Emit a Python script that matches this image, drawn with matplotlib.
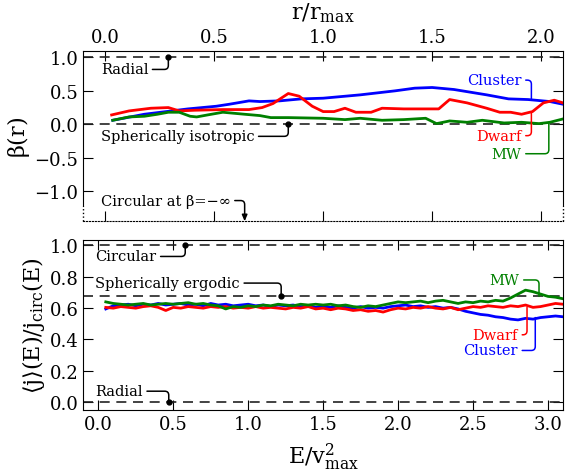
import matplotlib
matplotlib.use("Agg")
import matplotlib.pyplot as plt

plt.rcParams["font.family"] = "DejaVu Serif"
plt.rcParams["mathtext.fontset"] = "dejavuserif"

# --- panel superior: beta(r) ---
r_cluster = [0.035, 0.18, 0.38, 0.51, 0.57, 0.66, 0.71, 0.80, 0.90, 1.00,
             1.17, 1.33, 1.42, 1.50, 1.60, 1.75, 1.85, 1.94, 2.04, 2.10]
b_cluster = [0.06, 0.15, 0.23, 0.27, 0.30, 0.35, 0.34, 0.35, 0.38, 0.39,
             0.44, 0.50, 0.54, 0.55, 0.52, 0.44, 0.38, 0.37, 0.34, 0.30]

r_dwarf = [0.03, 0.11, 0.21, 0.29, 0.34, 0.41, 0.54, 0.66, 0.72, 0.77,
           0.84, 0.89, 0.95, 1.00, 1.05, 1.10, 1.15, 1.22, 1.27, 1.37,
           1.43, 1.53, 1.58, 1.66, 1.75, 1.81, 1.86, 1.91, 1.96, 2.01,
           2.06, 2.10]
b_dwarf = [0.14, 0.20, 0.24, 0.25, 0.20, 0.21, 0.22, 0.22, 0.25, 0.31,
           0.46, 0.42, 0.27, 0.19, 0.19, 0.24, 0.18, 0.18, 0.24, 0.23,
           0.23, 0.23, 0.37, 0.32, 0.24, 0.18, 0.18, 0.15, 0.19, 0.32,
           0.36, 0.32]

r_mw = [0.035, 0.11, 0.18, 0.24, 0.29, 0.34, 0.39, 0.42, 0.47, 0.54,
        0.64, 0.71, 0.76, 0.84, 1.00, 1.10, 1.17, 1.27, 1.37, 1.47,
        1.52, 1.58, 1.66, 1.73, 1.83, 1.91, 1.99, 2.04, 2.10]
b_mw = [0.06, 0.11, 0.12, 0.15, 0.18, 0.18, 0.12, 0.11, 0.14, 0.18,
        0.15, 0.13, 0.10, 0.10, 0.09, 0.07, 0.09, 0.06, 0.07, 0.09,
        0.01, 0.05, 0.03, 0.06, 0.02, 0.03, 0.01, 0.03, 0.08]

# --- panel inferior: <j>(E)/jcirc(E) ---
E = [round(0.05 * k, 2) for k in range(1, 63)]
j_cluster = [0.595, 0.615, 0.620, 0.625, 0.615, 0.625, 0.620, 0.630, 0.620, 0.625,
             0.630, 0.620, 0.625, 0.615, 0.630, 0.620, 0.625, 0.615, 0.620, 0.625,
             0.615, 0.620, 0.610, 0.620, 0.615, 0.620, 0.610, 0.615, 0.605, 0.610,
             0.605, 0.615, 0.605, 0.600, 0.610, 0.600, 0.605, 0.600, 0.610, 0.615,
             0.620, 0.610, 0.615, 0.605, 0.610, 0.600, 0.605, 0.595, 0.580, 0.570,
             0.560, 0.555, 0.545, 0.540, 0.530, 0.525, 0.535, 0.530, 0.540, 0.545,
             0.550, 0.545]
j_dwarf = [0.605, 0.600, 0.610, 0.605, 0.600, 0.610, 0.615, 0.605, 0.585, 0.605,
           0.600, 0.610, 0.605, 0.600, 0.610, 0.605, 0.610, 0.600, 0.605, 0.600,
           0.610, 0.600, 0.605, 0.600, 0.595, 0.605, 0.600, 0.610, 0.595, 0.600,
           0.590, 0.600, 0.595, 0.585, 0.590, 0.580, 0.585, 0.575, 0.590, 0.600,
           0.595, 0.605, 0.600, 0.610, 0.600, 0.595, 0.605, 0.590, 0.600, 0.610,
           0.605, 0.615, 0.610, 0.605, 0.615, 0.610, 0.620, 0.605, 0.610, 0.620,
           0.630, 0.625]
j_mw = [0.640, 0.630, 0.625, 0.620, 0.625, 0.630, 0.620, 0.625, 0.630, 0.625,
        0.630, 0.635, 0.625, 0.630, 0.620, 0.615, 0.595, 0.610, 0.605, 0.615,
        0.610, 0.620, 0.615, 0.625, 0.620, 0.615, 0.625, 0.620, 0.625, 0.620,
        0.625, 0.615, 0.620, 0.610, 0.605, 0.615, 0.610, 0.620, 0.630, 0.640,
        0.635, 0.640, 0.645, 0.635, 0.645, 0.650, 0.640, 0.630, 0.640, 0.635,
        0.645, 0.640, 0.650, 0.645, 0.665, 0.690, 0.715, 0.705, 0.690, 0.675,
        0.670, 0.660]

lineas_ref_beta = [1.0, 0.0]
lineas_ref_j = [1.0, 0.675, 0.0]

fig = plt.figure(figsize=(5.66, 4.77), dpi=100)
ax1 = fig.add_axes([83.3 / 566, 1 - 222.3 / 477, 479.7 / 566, 170.6 / 477])
ax2 = fig.add_axes([83.3 / 566, 1 - 411 / 477, 479.7 / 566, 170 / 477])

dash = dict(color="#222222", lw=1.2, dashes=(6, 4))
lw = 2.0


def nota(ax, texto, xy, xytext, color="black", ha="left", punto=False, flecha=False):
    estilo = "-|>,head_length=0.35,head_width=0.15" if flecha else "-"
    ax.annotate(texto, xy=xy, xytext=xytext, color=color, fontsize=10.5,
                ha=ha, va="center",
                arrowprops=dict(arrowstyle=estilo, color=color, lw=1.1,
                                connectionstyle="angle,angleA=0,angleB=90,rad=4",
                                relpos=(1.0, 0.5), shrinkA=1, shrinkB=0))
    if punto:
        ax.plot(*xy, "o", color=color, ms=3.5, clip_on=False)


# ---------- panel superior ----------
for y in lineas_ref_beta:
    ax1.axhline(y, **dash)
ax1.plot(r_cluster, b_cluster, color="blue", lw=lw)
ax1.plot(r_dwarf, b_dwarf, color="red", lw=lw)
ax1.plot(r_mw, b_mw, color="green", lw=lw)

ax1.set_xlim(-0.1, 2.1)
ax1.set_ylim(-1.45, 1.1)
ax1.set_yticks([-1.0, -0.5, 0.0, 0.5, 1.0])
ax1.set_xticks([0.0, 0.5, 1.0, 1.5, 2.0])
ax1.xaxis.set_label_position("top")
ax1.tick_params(direction="in", top=True, bottom=True, left=True, right=True,
                labeltop=True, labelbottom=False, length=7, labelsize=13)
ax1.set_xlabel(r"$\mathrm{r/r_{max}}$", fontsize=16, labelpad=7)
ax1.set_ylabel(r"$\mathrm{\beta(r)}$", fontsize=16, labelpad=2)
ax1.yaxis.set_major_formatter(plt.FuncFormatter(lambda v, p: f"{v:.1f}".replace("-", "\u2212")))
ax1.xaxis.set_major_formatter(plt.FuncFormatter(lambda v, p: f"{v:.1f}"))

# parte punteada del eje (beta -> -inf)
ax1.spines["bottom"].set_linestyle(":")
ax1.spines["left"].set_bounds(-1.22, 1.1)
ax1.spines["right"].set_bounds(-1.22, 1.1)
for xs in (-0.1, 2.1):
    ax1.plot([xs, xs], [-1.45, -1.22], ls=":", color="black", lw=1.0, clip_on=False)

nota(ax1, "Radial", (0.29, 1.0), (-0.02, 0.82), punto=True)
nota(ax1, "Spherically isotropic", (0.84, 0.0), (-0.02, -0.18), punto=True)
nota(ax1, "Circular at β=−∞", (0.64, -1.45), (-0.02, -1.14), flecha=True)
nota(ax1, "Cluster", (1.955, 0.37), (1.91, 0.66), color="blue", ha="right")
nota(ax1, "Dwarf", (1.955, 0.18), (1.91, -0.17), color="red", ha="right")
nota(ax1, "MW", (2.035, 0.02), (1.91, -0.44), color="green", ha="right")

# ---------- panel inferior ----------
for y in lineas_ref_j:
    ax2.axhline(y, **dash)
ax2.plot(E, j_cluster, color="blue", lw=lw)
ax2.plot(E, j_dwarf, color="red", lw=lw)
ax2.plot(E, j_mw, color="green", lw=lw)

ax2.set_xlim(-0.1, 3.1)
ax2.set_ylim(-0.05, 1.035)
ax2.set_yticks([0.0, 0.2, 0.4, 0.6, 0.8, 1.0])
ax2.set_xticks([0.0, 0.5, 1.0, 1.5, 2.0, 2.5, 3.0])
ax2.tick_params(direction="in", top=True, bottom=True, left=True, right=True,
                length=7, labelsize=13)
ax2.xaxis.set_major_formatter(plt.FuncFormatter(lambda v, p: f"{v:.1f}"))
ax2.yaxis.set_major_formatter(plt.FuncFormatter(lambda v, p: f"{v:.1f}"))
ax2.set_xlabel(r"$\mathrm{E/v^2_{max}}$", fontsize=16, labelpad=6)
ax2.set_ylabel(r"$\mathrm{\langle j\rangle(E)/j_{circ}(E)}$", fontsize=16, labelpad=2)

nota(ax2, "Circular", (0.58, 1.0), (-0.02, 0.93), punto=True)
nota(ax2, "Spherically ergodic", (1.22, 0.675), (-0.02, 0.76), punto=True)
nota(ax2, "Radial", (0.47, 0.0), (-0.02, 0.07), punto=True)
nota(ax2, "MW", (2.94, 0.675), (2.81, 0.78), color="green", ha="right")
nota(ax2, "Dwarf", (2.86, 0.605), (2.80, 0.43), color="red", ha="right")
nota(ax2, "Cluster", (2.915, 0.54), (2.80, 0.33), color="blue", ha="right")

fig.savefig("out.png", dpi=100)
plt.close(fig)
